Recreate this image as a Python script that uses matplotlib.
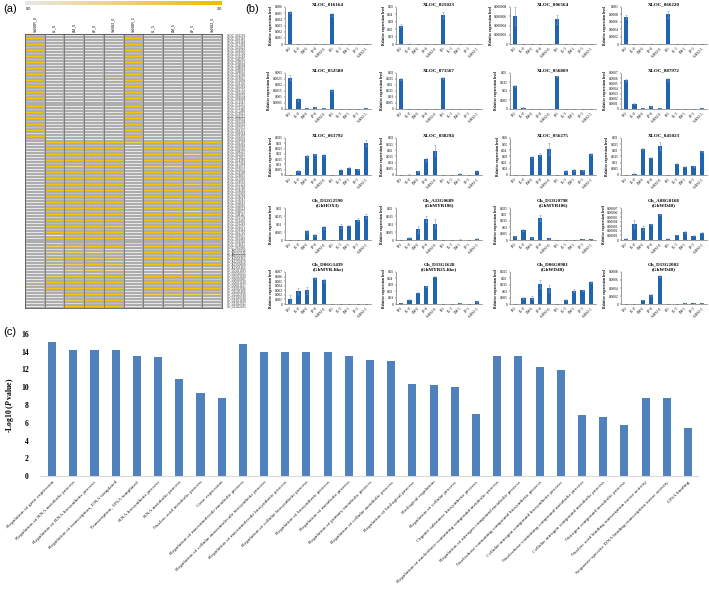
import numpy as np
import matplotlib
matplotlib.use("Agg")
import matplotlib.pyplot as plt
from matplotlib.colors import LinearSegmentedColormap

W, H = 709, 593

# ---------------- panel (a) data ----------------
heat_cols = ["SxNSR_0", "LL_0", "LM_0", "LF_0", "SxNS2_0",
             "SxNSR_5", "LL_5", "LM_5", "LF_5", "SxNS2_5"]

heat_genes = [
    "XLOC_001253", "XLOC_016162", "XLOC_016164", "XLOC_017381", "XLOC_025023", "XLOC_029210",
    "XLOC_031720", "XLOC_036283", "XLOC_040255", "XLOC_043612", "XLOC_044094", "XLOC_048603",
    "XLOC_049052", "XLOC_052580", "XLOC_054027", "XLOC_056809", "XLOC_058130", "XLOC_060281",
    "XLOC_062735", "XLOC_066220", "XLOC_066531", "XLOC_068904", "XLOC_071567", "XLOC_073215",
    "XLOC_075128", "XLOC_077466", "XLOC_079012", "XLOC_081357", "XLOC_083690", "XLOC_085204",
    "XLOC_086541", "XLOC_087972", "XLOC_089135", "XLOC_006564", "XLOC_091470", "XLOC_092618",
    "XLOC_002107", "XLOC_003984", "XLOC_005516", "XLOC_008237", "XLOC_010452", "XLOC_012811",
    "XLOC_014369", "XLOC_017944", "XLOC_019072", "XLOC_021635", "XLOC_023398", "XLOC_024815",
    "XLOC_027036", "XLOC_028553", "XLOC_030129", "XLOC_032740", "XLOC_034218", "XLOC_035902",
    "XLOC_038294", "XLOC_039567", "XLOC_041183", "XLOC_042816", "XLOC_045023", "XLOC_046675",
    "XLOC_048112", "XLOC_050739", "XLOC_053406", "XLOC_055248", "XLOC_056275", "XLOC_059314",
    "XLOC_061792", "XLOC_063057", "XLOC_065483", "XLOC_069320", "XLOC_074611", "XLOC_080946",
    "Gh_A05G0244", "Gh_A05G2246", "Gh_A08G0168", "Gh_A10G1862", "Gh_A12G0470", "Gh_A13G0689",
    "Gh_A13G1462", "Gh_D01G1093", "Gh_D05G0251", "Gh_D05G3180", "Gh_D06G0981", "Gh_D06G1439",
    "Gh_D08G1427", "Gh_D10G2186", "Gh_D11G1908", "Gh_D12G2590", "Gh_D13G0798", "Gh_D13G1628",
    "Gh_D13G2002", "Gh_D13G2281",
]

# one string per gene, one digit (0-3) per column
heat_rows = [
    "3000030000", "3000030000", "3000030000", "3000030000", "3000030000", "3000030000",
    "3000030000", "3000030000", "3000030000", "3000030000", "3000030000", "3000030000",
    "3000030000", "3000030000", "3000130000", "3000030000", "3000030000", "3000030000",
    "3000030000", "3000030000", "3000030000", "3000030000", "3000030000", "3000030000",
    "3000030000", "3000030000", "3000030000", "3000030000", "3000030000", "3000030000",
    "3000030000", "3000030000", "3000030000", "1000030000", "3000030000", "3000030000",
    "0333323333", "0333303333", "0333303333", "0333303333", "0333303313", "0333303333",
    "0333303333", "0333303333", "0313302133", "0333303333", "0333303333", "0333303333",
    "0333303333", "0333303333", "0333303323", "0333303333", "0333303333", "0333303333",
    "0333303333", "0333303233", "0333303333", "0333303333", "0333303333", "0333302213",
    "0333303333", "0233303323", "0333303333", "0333303333", "0333203333", "0333303333",
    "0333303333", "0033303333", "0333303333", "0233303333", "0133313333", "0223303333",
    "0112103333", "0121103333", "0133203333", "0232203333", "0133103332", "0123203333",
    "0021100111", "0012100010", "0011200011", "0233303333", "0333303332", "0333303333",
    "1333303333", "0333303333", "0233303333", "0033302221", "0033300000", "0023300000",
    "0013300000", "0033300000",
]

# ---------------- panel (b) data ----------------
b_samples = ["R-0", "LL-0", "LM-0", "LF-0", "SxNS2-0",
             "R-5", "LL-5", "LM-5", "LF-5", "SxNS2-5"]

b_titles = [
    "XLOC_016164", "XLOC_025023", "XLOC_006564", "XLOC_066220",
    "XLOC_052580", "XLOC_071567", "XLOC_056809", "XLOC_087972",
    "XLOC_061792", "XLOC_038294", "XLOC_056275", "XLOC_045023",
    "Gh_D12G2590\n(GhHOX3)", "Gh_A13G0689\n(GhMYB106)",
    "Gh_D13G0798\n(GhMYB106)", "Gh_A08G0168\n(GhWD40)",
    "Gh_D06G1439\n(GhMYB-like)", "Gh_D13G1628\n(GhMYB25-like)",
    "Gh_D06G0981\n(GhWD40)", "Gh_D13G2002\n(GhWD40)",
]

b_means = [
    [0.0052, 0.00005, 0, 0, 0, 0.0048, 0, 0, 0, 0],
    [0.025, 0.0005, 0, 0, 0, 0.039, 0, 0, 0, 0],
    [0.000006, 0, 0, 0, 0, 0.0000053, 0, 0, 0, 0],
    [0.00073, 0, 0, 0, 0, 0.0008, 0, 0, 0, 0],
    [0.0026, 0.0008, 0.00005, 0.00015, 0.00005, 0.0016, 0, 0, 0.00003, 0.00005],
    [0.025, 0, 0, 0, 0, 0.0255, 0, 0, 0, 0],
    [0.0128, 0.0008, 0, 0, 0, 0.0183, 0, 0, 0, 0],
    [0.00056, 0.0001, 0.00002, 0.00005, 0.00002, 0.00058, 0, 0, 0, 0.00001],
    [0, 0.004, 0.018, 0.0195, 0.0185, 0, 0.005, 0.007, 0.0055, 0.030],
    [0, 0.0003, 0.003, 0.0127, 0.0195, 0, 0, 0.001, 0.0002, 0.0035],
    [0, 0.0005, 0.029, 0.033, 0.042, 0, 0.0065, 0.008, 0.0075, 0.034],
    [0, 0.0012, 0.0212, 0.014, 0.0235, 0, 0.0093, 0.0068, 0.007, 0.0193],
    [0, 0, 0.0055, 0.003, 0.008, 0, 0.0088, 0.0088, 0.0127, 0.015],
    [0, 0.0013, 0.0066, 0.013, 0.0102, 0, 0, 0.0003, 0.0001, 0.0009],
    [0.0028, 0.0075, 0.0022, 0.0172, 0.0013, 0.0001, 0.0001, 0.0002, 0.0006, 0.0005],
    [0.000003, 0.000035, 0.000026, 0.000034, 0.000056, 0.000003, 0.000011, 0.000018, 0.000009, 0.000016],
    [0.0011, 0.0028, 0.003, 0.0057, 0.0052, 0.0001, 0.0001, 0.0001, 0.0001, 0.0001],
    [0.0008, 0.0068, 0.0175, 0.0275, 0.0425, 0, 0.0002, 0.0008, 0.0003, 0.004],
    [0.0003, 0.0048, 0.0048, 0.0157, 0.0122, 0, 0.0035, 0.0105, 0.0107, 0.0174],
    [0, 0.00001, 0.0001, 0.00022, 0.0007, 0, 0.00001, 0.00002, 0.00002, 0.00002],
]

b_errs = [
    [0.0002, 0, 0, 0, 0, 0.0003, 0, 0, 0, 0],
    [0.002, 0, 0, 0, 0, 0.004, 0, 0, 0, 0],
    [0.000002, 0, 0, 0, 0, 0.0000009, 0, 0, 0, 0],
    [0.00005, 0, 0, 0, 0, 0.0001, 0, 0, 0, 0],
    [0.0002, 0.0001, 0, 0.00003, 0, 0.0001, 0, 0, 0, 0],
    [0.001, 0, 0, 0, 0, 0.0008, 0, 0, 0, 0],
    [0.0008, 0.0002, 0, 0, 0, 0.0003, 0, 0, 0, 0],
    [0.00002, 0.00001, 0, 0.00001, 0, 0.00003, 0, 0, 0, 0],
    [0, 0.001, 0.001, 0.0005, 0.001, 0, 0.0005, 0.0005, 0.0005, 0.003],
    [0, 0.0002, 0.0005, 0.001, 0.0045, 0, 0, 0.0003, 0, 0.0005],
    [0, 0, 0.001, 0.002, 0.01, 0, 0.001, 0.0015, 0.001, 0.002],
    [0, 0.0002, 0.0007, 0.0005, 0.003, 0, 0.0005, 0.0003, 0.0003, 0.0005],
    [0, 0, 0.001, 0.0007, 0.001, 0, 0.0012, 0.0003, 0.001, 0.0015],
    [0, 0.0003, 0.002, 0.002, 0.003, 0, 0, 0.0002, 0, 0.0003],
    [0.0007, 0.0008, 0.0005, 0.0025, 0.0005, 0, 0, 0, 0.0002, 0.0002],
    [0.000001, 0.000008, 0.000005, 0.000002, 0.000001, 0.000001, 0.000001, 0.000002, 0.000001, 0.000001],
    [0.0008, 0.0006, 0.0008, 0.0003, 0.0003, 0, 0, 0, 0, 0],
    [0.0002, 0.001, 0.001, 0.0005, 0.0005, 0, 0, 0, 0, 0.0005],
    [0, 0.001, 0.0012, 0.003, 0.0025, 0, 0.0003, 0.001, 0.0005, 0.0008],
    [0, 0, 0.00001, 0.00002, 0.00002, 0, 0, 0, 0, 0],
]

b_ymax = [0.006, 0.05, 0.000008, 0.001, 0.003, 0.03, 0.02, 0.0007,
          0.035, 0.03, 0.06, 0.03, 0.02, 0.02, 0.025, 0.00007,
          0.007, 0.05, 0.025, 0.0008]
b_ystep = [0.001, 0.01, 0.000002, 0.0002, 0.0005, 0.005, 0.005, 0.0001,
           0.005, 0.005, 0.01, 0.005, 0.005, 0.005, 0.005, 0.00001,
           0.001, 0.01, 0.005, 0.0002]

# ---------------- panel (c) data ----------------
go_terms = [
    "Regulation of gene expression",
    "Regulation of RNA metabolic process",
    "Regulation of RNA biosynthetic process",
    "Regulation of transcription, DNA-templated",
    "Transcription, DNA-templated",
    "RNA biosynthetic process",
    "RNA metabolic process",
    "Nucleic acid metabolic process",
    "Gene expression",
    "Regulation of macromolecule metabolic process",
    "Regulation of cellular macromolecule biosynthetic process",
    "Regulation of macromolecule biosynthetic process",
    "Regulation of cellular biosynthetic process",
    "Regulation of biosynthetic process",
    "Regulation of metabolic process",
    "Regulation of primary metabolic process",
    "Regulation of cellular metabolic process",
    "Regulation of biological process",
    "Biological regulation",
    "Regulation of cellular process",
    "Organic substance biosynthetic process",
    "Regulation of nucleobase-containing compound metabolic process",
    "Regulation of nitrogen compound metabolic process",
    "Nucleobase-containing compound biosynthetic process",
    "Cellular nitrogen compound biosynthetic process",
    "Nucleobase-containing compound metabolic process",
    "Cellular nitrogen compound metabolic process",
    "Nitrogen compound metabolic process",
    "Nucleic acid binding transcription factor activity",
    "Sequence-specific DNA binding transcription factor activity",
    "DNA binding",
]
go_logp = [15.1, 14.2, 14.2, 14.2, 13.5, 13.4, 10.9, 9.4, 8.8, 14.9,
           14.0, 14.0, 14.0, 14.0, 13.5, 13.1, 13.0, 10.4, 10.2, 10.0,
           7.0, 13.5, 13.5, 12.3, 11.9, 6.9, 6.6, 5.8, 8.8, 8.8, 5.4]

plt.rcParams['font.family'] = ['Liberation Serif', 'DejaVu Serif']
plt.rcParams['mathtext.fontset'] = 'custom'
plt.rcParams['mathtext.rm'] = 'Liberation Serif:bold'
plt.rcParams['mathtext.it'] = 'Liberation Serif:bold:italic'

fig = plt.figure(figsize=(W / 100, H / 100), dpi=100)


def px_axes(l, t, r, b):
    return fig.add_axes([l / W, 1 - b / H, (r - l) / W, (b - t) / H])


def tick_fmt(v):
    if abs(v) < 1e-12:
        return "0"
    return f"{v:.8f}".rstrip('0').rstrip('.')


sans = ['Liberation Sans', 'DejaVu Sans']

# ---------------- (a) heatmap ----------------
cmap = LinearSegmentedColormap.from_list("gy", ["#e6e6e6", "#f5c600"])
cmap_bar = LinearSegmentedColormap.from_list("gyb", ["#e8e8e8", "#f6b800"])

ax_cb = px_axes(25, 0.5, 222, 5.5)
ax_cb.imshow(np.linspace(0, 3, 256)[None, :], aspect='auto', cmap=cmap_bar)
ax_cb.set_axis_off()
fig.text(26 / W, 1 - 9.5 / H, "0.0", fontsize=2.8, family=sans, va='center')
fig.text(222 / W, 1 - 9.5 / H, "3.0", fontsize=2.8, family=sans, va='center', ha='right')

mat = np.array([[int(ch) for ch in row] for row in heat_rows], dtype=float)
axa = px_axes(25, 34, 222, 308)
axa.pcolormesh(mat, cmap=cmap, vmin=0, vmax=3, edgecolors="#adadad", linewidth=0.2)
axa.set_xlim(0, mat.shape[1])
axa.set_ylim(mat.shape[0], 0)
axa.set_xticks([])
axa.set_yticks([])
for i in range(1, mat.shape[1]):
    axa.axvline(i, color="#6a6a6a", lw=0.5)
for s in axa.spines.values():
    s.set_linewidth(0.6)
    s.set_color("#555555")
for i, name in enumerate(heat_cols):
    axa.text(i + 0.5, 1.008, name, rotation=90, ha='center', va='bottom',
             fontsize=2.6, family=sans, transform=axa.get_xaxis_transform())
for j, g in enumerate(heat_genes):
    axa.text(1.025, j + 0.5, g, ha='left', va='center', fontsize=2.1,
             family=sans, color="#333333", transform=axa.get_yaxis_transform())

fig.text(3 / W, 1 - 9 / H, "(a)", fontsize=8, family=sans, va='center')
fig.text(245 / W, 1 - 9 / H, "(b)", fontsize=8, family=sans, va='center')
fig.text(3 / W, 1 - 332 / H, "(c)", fontsize=8, family=sans, va='center')

# ---------------- (b) qRT-PCR bars ----------------
col_left = [285, 396, 510, 621]
row_tb = [(7, 44), (73, 109), (138, 175), (208, 240), (272, 304)]
x = np.arange(len(b_samples))
for k in range(len(b_titles)):
    r, c = divmod(k, 4)
    ax = px_axes(col_left[c], row_tb[r][0], col_left[c] + 86, row_tb[r][1])
    ax.bar(x, b_means[k], width=0.5, color="#2064b0", yerr=b_errs[k],
           error_kw=dict(ecolor="#7d9ccc", elinewidth=0.4, capsize=0.8, capthick=0.4))
    ax.set_xlim(-0.6, 9.6)
    ax.set_ylim(0, b_ymax[k])
    ticks = np.arange(0, b_ymax[k] + b_ystep[k] / 2, b_ystep[k])
    ax.set_yticks(ticks)
    ax.set_yticklabels([tick_fmt(t) for t in ticks], fontsize=2.6)
    ax.set_xticks(x)
    ax.set_xticklabels(b_samples, rotation=45, ha='right', rotation_mode='anchor', fontsize=2.6)
    ax.tick_params(axis='both', length=1, width=0.3, pad=0.8)
    ax.tick_params(axis='x', length=0, pad=1.5)
    for s in ['top', 'right']:
        ax.spines[s].set_visible(False)
    for s in ['left', 'bottom']:
        ax.spines[s].set_linewidth(0.4)
        ax.spines[s].set_color("#555555")
    ax.set_title(b_titles[k], fontsize=3.6, fontweight='bold', pad=1.5, linespacing=1.1)
    ax.set_ylabel("Relative expression level", fontsize=2.7, fontweight='bold', labelpad=1)

# ---------------- (c) GO enrichment ----------------
axc = px_axes(40, 334, 698, 476)
xc = np.arange(len(go_terms))
axc.bar(xc, go_logp, width=0.38, color="#4f81bd")
axc.set_xlim(-0.57, len(go_terms) - 0.53)
axc.set_ylim(0, 16)
axc.set_yticks(np.arange(0, 17, 2))
axc.set_yticklabels([str(v) for v in range(0, 17, 2)], fontsize=5.5, fontweight='bold')
axc.set_xticks(xc)
axc.set_xticklabels(go_terms, rotation=45, ha='right', rotation_mode='anchor',
                    fontsize=3.9, color="#222222")
axc.tick_params(axis='y', length=0, pad=8)
axc.tick_params(axis='x', length=0, pad=3)
for s in ['top', 'right', 'left']:
    axc.spines[s].set_visible(False)
axc.spines['bottom'].set_color("#d9d9d9")
axc.spines['bottom'].set_linewidth(0.8)
axc.set_ylabel(r"-Log10 ($P$ value)", fontsize=5.5, fontweight='bold', labelpad=4)

fig.savefig("out.png", dpi=100)
